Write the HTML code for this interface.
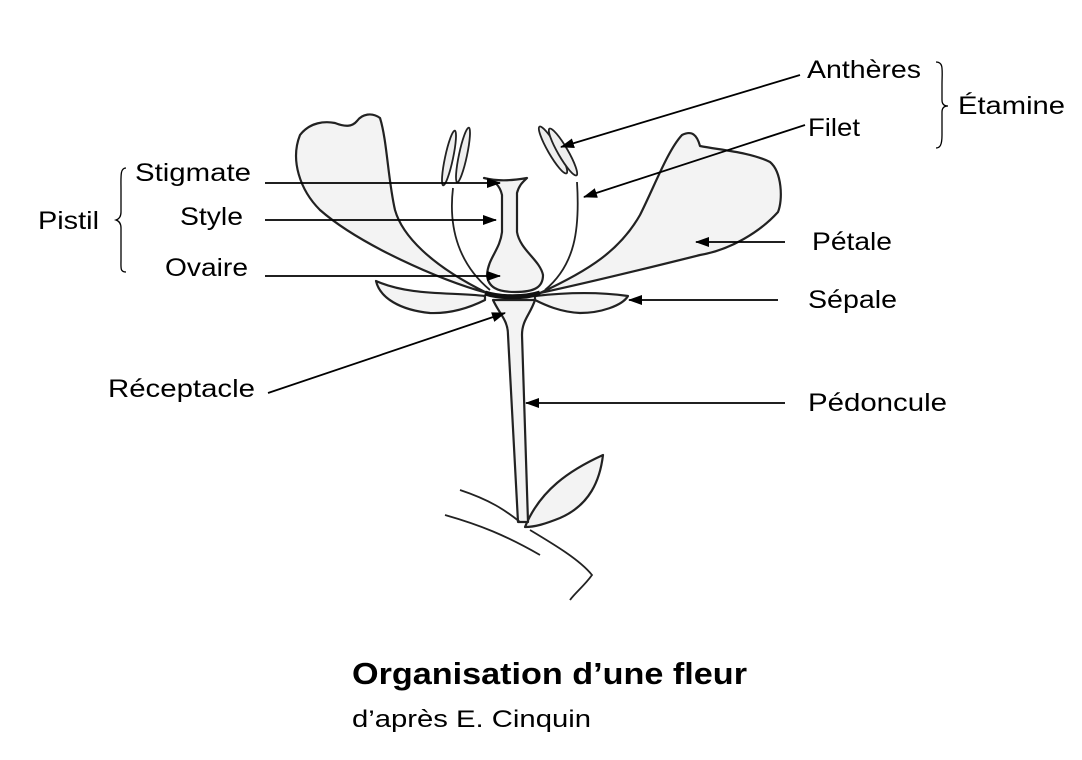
<!DOCTYPE html>
<html><head><meta charset="utf-8"><style>
html,body{margin:0;padding:0;background:#fff;}
svg{display:block;}
text{font-family:"Liberation Sans",sans-serif;fill:#000;}
</style></head><body>
<svg width="1082" height="760" viewBox="0 0 1082 760" xmlns="http://www.w3.org/2000/svg">
<defs><marker id="a" markerWidth="14" markerHeight="10" refX="13" refY="5" orient="auto" markerUnits="userSpaceOnUse"><path d="M0,0 L14,5 L0,10 z" fill="#000"/></marker></defs>
<g stroke="#222" stroke-width="2.2" fill="#f3f3f3" stroke-linejoin="round">
<path d="M487,293 C440,280 360,245 320,210 C300,190 290,160 300,135 C310,122 325,121 335,123 C345,127 352,127 357,121 C362,114 372,112 380,118 C387,140 388,180 395,210 C402,235 430,265 487,293 Z"/>
<path d="M540,293 C590,270 620,250 640,215 C655,185 668,150 682,135 C692,130 697,135 700,146 C720,150 750,152 770,162 C782,172 783,200 778,212 C760,232 730,250 700,255 C660,265 600,280 540,293 Z"/>
<path d="M485,296 C450,292 410,296 376,281 C380,298 400,310 430,313 C455,314 475,305 485,300 Z"/>
<path d="M535,296 C570,292 600,292 628,296 C622,306 600,313 580,313 C560,312 545,305 535,300 Z"/>
<path d="M525,527 C540,490 570,470 603,455 C600,480 590,505 560,518 C545,524 535,527 525,527 Z"/>
<path d="M493,300 C500,315 508,320 508,335 L518,522 L528,522 L522,335 C522,320 530,315 535,300 Z"/>
<path d="M484,178 C495,180 500,186 502,195 L502,232 C500,250 488,258 487,275 C488,287 497,292 515,292 C535,292 543,287 543,275 C540,260 520,250 517,232 L517,193 C519,185 523,182 527,178 C515,180 500,182 484,178 Z"/>
</g>
<g stroke="#222" stroke-width="1.8" fill="none">
<path d="M453,188 C448,230 460,265 490,290"/>
<path d="M577,182 C580,230 575,265 545,290"/>
<path d="M460,490 C490,500 505,510 520,522"/>
<path d="M530,530 C555,545 580,560 592,575 C585,585 575,593 570,600"/>
<path d="M445,515 C480,525 505,535 540,555"/>
</g>
<g stroke="#222" stroke-width="1.8" fill="#eee">
<ellipse cx="449" cy="158" rx="4" ry="28" transform="rotate(12 449 158)"/>
<ellipse cx="463" cy="155" rx="4" ry="28" transform="rotate(12 463 155)"/>
<ellipse cx="553" cy="150" rx="5" ry="27" transform="rotate(-30 553 150)"/>
<ellipse cx="563" cy="152" rx="5" ry="27" transform="rotate(-30 563 152)"/>
</g>
<path d="M485,293 C500,298 525,298 540,293" stroke="#111" stroke-width="5" fill="none"/>
<g stroke="#000" stroke-width="1.8" marker-end="url(#a)">
<line x1="800" y1="75" x2="561" y2="147"/>
<line x1="805" y1="125" x2="584" y2="197"/>
<line x1="785" y1="242" x2="696" y2="242"/>
<line x1="778" y1="300" x2="629" y2="300"/>
<line x1="785" y1="403" x2="526" y2="403"/>
<line x1="265" y1="183" x2="500" y2="183"/>
<line x1="265" y1="220" x2="496" y2="220"/>
<line x1="265" y1="276" x2="500" y2="276"/>
<line x1="268" y1="393" x2="505" y2="313"/>
</g>
<g stroke="#000" stroke-width="1.3" fill="none">
<path d="M936,62 C944,62 942,70 942,85 L942,100 C942,105 945,106 948,106 C945,106 942,107 942,112 L942,135 C942,145 940,148 936,148"/>
<path d="M126,168 C120,168 121,176 121,190 L121,212 C121,217 119,219 116,220 C119,221 121,223 121,228 L121,260 C121,268 120,272 126,272"/>
</g>
<g font-size="25">
<text x="807" y="78" textLength="114" lengthAdjust="spacingAndGlyphs">Anthères</text>
<text x="808" y="136" textLength="52" lengthAdjust="spacingAndGlyphs">Filet</text>
<text x="958" y="114" textLength="107" lengthAdjust="spacingAndGlyphs">Étamine</text>
<text x="135" y="181" textLength="116" lengthAdjust="spacingAndGlyphs">Stigmate</text>
<text x="180" y="225" textLength="63" lengthAdjust="spacingAndGlyphs">Style</text>
<text x="165" y="276" textLength="83" lengthAdjust="spacingAndGlyphs">Ovaire</text>
<text x="38" y="229" textLength="61" lengthAdjust="spacingAndGlyphs">Pistil</text>
<text x="812" y="250" textLength="80" lengthAdjust="spacingAndGlyphs">Pétale</text>
<text x="808" y="308" textLength="89" lengthAdjust="spacingAndGlyphs">Sépale</text>
<text x="108" y="397" textLength="147" lengthAdjust="spacingAndGlyphs">Réceptacle</text>
<text x="808" y="411" textLength="139" lengthAdjust="spacingAndGlyphs">Pédoncule</text>
</g>
<text x="352" y="684" font-size="31" font-weight="bold" textLength="395" lengthAdjust="spacingAndGlyphs">Organisation d’une fleur</text>
<text x="352" y="727" font-size="24" textLength="239" lengthAdjust="spacingAndGlyphs">d’après E. Cinquin</text>
</svg>
</body></html>
